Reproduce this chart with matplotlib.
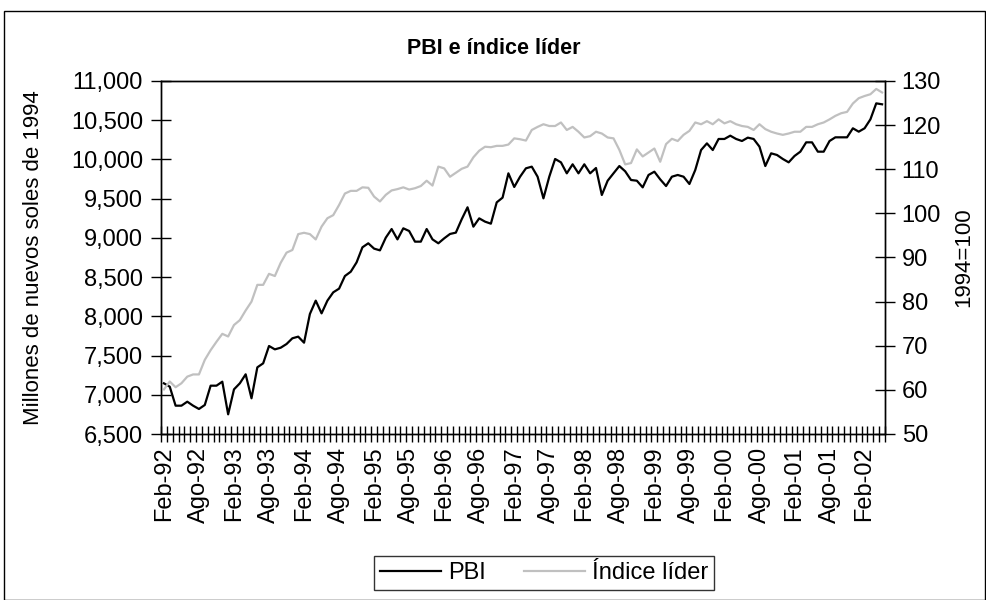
import matplotlib
matplotlib.use("Agg")
import matplotlib.pyplot as plt
from matplotlib.patches import Rectangle
from matplotlib.ticker import FuncFormatter, FixedLocator, MultipleLocator

plt.rcParams['font.family'] = ['Liberation Sans', 'DejaVu Sans']

# Monthly data Feb-92 .. May-02
pbi = [7146, 7103, 6861, 6861, 6912, 6861, 6819, 6870, 7116, 7116,
       7167, 6751, 7069, 7146, 7261, 6955, 7350, 7401, 7622, 7579,
       7600, 7647, 7720, 7741, 7664, 8030, 8200, 8038, 8200, 8306,
       8353, 8514, 8569, 8688, 8880, 8931, 8863, 8841, 9003, 9113,
       8981, 9122, 9088, 8952, 8952, 9113, 8981, 8931, 8994, 9050,
       9067, 9237, 9390, 9143, 9249, 9207, 9181, 9453, 9513, 9823,
       9649, 9780, 9887, 9908, 9780, 9504, 9780, 10006, 9963, 9823,
       9938, 9823, 9938, 9823, 9891, 9547, 9729, 9823, 9916, 9849,
       9738, 9729, 9644, 9802, 9844, 9746, 9661, 9780, 9802, 9780,
       9687, 9865, 10120, 10205, 10120, 10261, 10261, 10303, 10261, 10235,
       10278, 10261, 10163, 9916, 10078, 10057, 10006, 9963, 10044, 10099,
       10218, 10218, 10099, 10099, 10235, 10282, 10282, 10282, 10397, 10354,
       10397, 10511, 10715, 10703]

indice = [60.1, 61.9, 60.6, 61.5, 63.0, 63.5, 63.5, 66.8, 69.0, 70.9,
          72.7, 72.1, 74.7, 75.8, 78.0, 80.0, 83.8, 83.8, 86.3, 85.8,
          88.8, 91.1, 91.7, 95.3, 95.6, 95.3, 94.1, 97.0, 98.9, 99.6,
          101.9, 104.5, 105.1, 105.1, 105.9, 105.8, 103.8, 102.7, 104.2, 105.2,
          105.5, 105.9, 105.4, 105.7, 106.2, 107.4, 106.3, 110.6, 110.2, 108.3,
          109.2, 110.1, 110.6, 112.7, 114.2, 115.1, 115.0, 115.3, 115.3, 115.6,
          117.0, 116.8, 116.5, 118.9, 119.6, 120.2, 119.8, 119.8, 120.6, 118.9,
          119.6, 118.5, 117.2, 117.5, 118.5, 118.1, 117.2, 117.0, 114.4, 111.1,
          111.4, 114.5, 112.9, 113.8, 114.7, 111.7, 115.7, 116.9, 116.4, 117.8,
          118.7, 120.6, 120.2, 120.9, 120.2, 121.3, 120.4, 120.9, 120.2, 119.8,
          119.6, 118.9, 120.2, 119.1, 118.5, 118.1, 117.8, 118.1, 118.5, 118.5,
          119.6, 119.6, 120.2, 120.6, 121.3, 122.1, 122.7, 123.0, 124.9, 126.1,
          126.6, 127.0, 128.2, 127.4]

tick_labels = ["Feb-92", "Ago-92", "Feb-93", "Ago-93", "Feb-94", "Ago-94",
               "Feb-95", "Ago-95", "Feb-96", "Ago-96", "Feb-97", "Ago-97",
               "Feb-98", "Ago-98", "Feb-99", "Ago-99", "Feb-00", "Ago-00",
               "Feb-01", "Ago-01", "Feb-02"]

n = len(pbi)
x = list(range(n))

W, H = 987, 600
fig = plt.figure(figsize=(W / 100, H / 100), dpi=100)
fig.patch.set_facecolor('white')

L, R, T, B = 161, 885, 81, 434
ax = fig.add_axes([L / W, 1 - B / H, (R - L) / W, (B - T) / H])
ax2 = ax.twinx()

l1, = ax.plot(x, pbi, color='black', lw=1.6, label='PBI')
l2, = ax2.plot(x, indice, color='#c0c0c0', lw=1.6, label='Índice líder')

ax.set_xlim(-0.5, n - 0.5)
ax.set_ylim(6500, 11000)
ax2.set_ylim(50, 130)
ax.yaxis.set_major_locator(MultipleLocator(500))
ax2.yaxis.set_major_locator(MultipleLocator(10))
ax.yaxis.set_major_formatter(FuncFormatter(lambda v, p: f"{int(v):,}"))

fs = 17
ax.set_xticks([6 * k for k in range(len(tick_labels))])
ax.set_xticklabels(tick_labels, rotation=90, fontsize=fs)
ax.xaxis.set_minor_locator(FixedLocator([i - 0.5 for i in range(n + 1)]))
ax.tick_params(axis='x', which='major', length=0, pad=9)
ax.tick_params(axis='x', which='minor', direction='inout', length=12, width=1, color='black')
ax.tick_params(axis='y', which='major', direction='inout', length=14, width=1, labelsize=fs, pad=6)
ax2.tick_params(axis='y', which='major', direction='inout', length=14, width=1, labelsize=fs, pad=5)

for a in (ax, ax2):
    for s in a.spines.values():
        s.set_linewidth(1.0)
        s.set_color('black')

ax.set_ylabel('Millones de nuevos soles de 1994', fontsize=16, labelpad=19)
ax2.set_ylabel('1994=100', fontsize=16, rotation=90, labelpad=9)

fig.text(0.5, 1 - 48 / H, 'PBI e índice líder', ha='center', va='center',
         fontsize=15.5, fontweight='bold')

leg = fig.legend([l1, l2], ['PBI', 'Índice líder'], loc='center',
                 bbox_to_anchor=(544 / W, 1 - 573 / H), ncol=2, fontsize=fs,
                 frameon=True, fancybox=False, edgecolor='black',
                 handlelength=2.6, columnspacing=1.6, borderpad=0.25,
                 handletextpad=0.3)
leg.get_frame().set_linewidth(1.0)

fig.patches.append(Rectangle((4.5 / W, 0.5 / H), (985 - 4.5) / W, (589) / H,
                             transform=fig.transFigure, fill=False,
                             edgecolor='black', lw=1.0))

fig.savefig('out.png', dpi=100)
